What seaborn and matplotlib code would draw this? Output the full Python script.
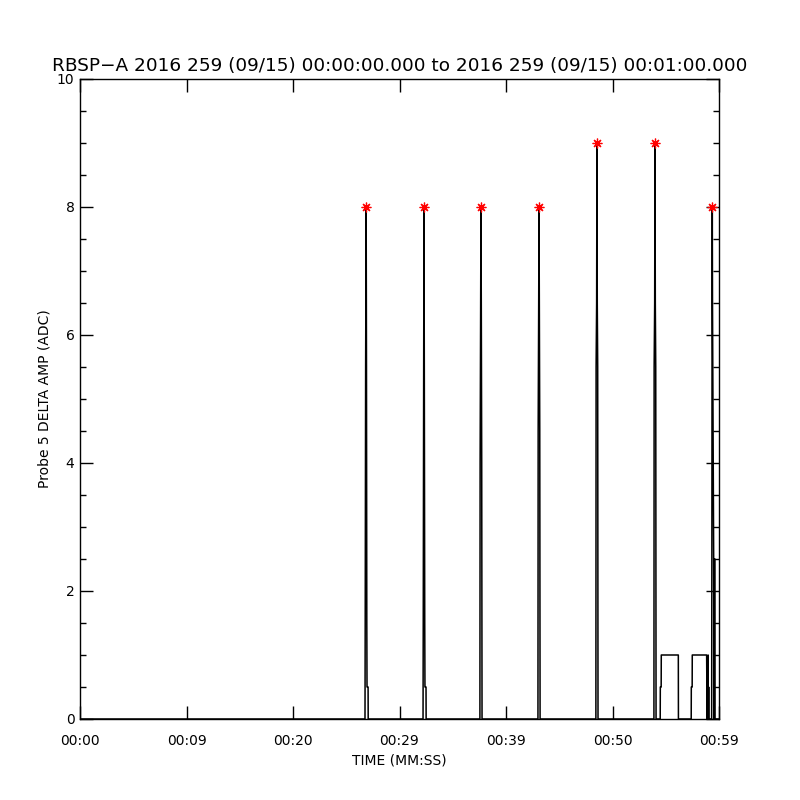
import matplotlib
matplotlib.use("Agg")
import matplotlib.pyplot as plt
from matplotlib.ticker import MultipleLocator
import pandas as pd
import seaborn as sns

# time in seconds after 00:00:00, amplitude in ADC counts
time_s = [
    0.00,
    26.76, 26.78, 26.82, 26.87, 26.90, 26.93, 26.95, 27.05, 27.06,
    32.21, 32.23, 32.27, 32.30, 32.33, 32.37, 32.39, 32.49, 32.50,
    37.55, 37.57, 37.62, 37.65, 37.68, 37.72, 37.75,
    43.00, 43.02, 43.07, 43.10, 43.13, 43.17, 43.20,
    48.44, 48.46, 48.51, 48.54, 48.57, 48.61, 48.64,
    53.89, 53.91, 53.96, 53.99, 54.02, 54.06, 54.09,
    54.48, 54.49, 54.57, 54.58, 56.18, 56.19,
    57.39, 57.40, 57.48, 57.49, 58.84, 58.86, 58.88, 58.90, 58.98, 59.00, 59.03, 59.05,
    59.31, 59.33, 59.35, 59.37, 59.39, 59.50, 59.53, 59.55, 59.62, 59.63, 60.00,
]
amp_adc = [
    0,
    0, 1.5, 5.5, 8, 5.5, 1.5, 0.5, 0.5, 0,
    0, 1.5, 5.5, 8, 5.5, 1.5, 0.5, 0.5, 0,
    0, 4, 6.5, 8, 6.5, 4, 0,
    0, 4.5, 6.5, 8, 6.5, 4.5, 0,
    0, 5.5, 6.5, 9, 6.5, 5.5, 0,
    0, 5.5, 6.5, 9, 6.5, 5.5, 0,
    0, 0.5, 0.5, 1, 1, 0,
    0, 0.5, 0.5, 1, 1, 0.5, 0, 0.5, 1, 0, 0.5, 0,
    0, 2.5, 6.5, 8, 6.5, 2.5, 0, 2.5, 2.5, 0, 0,
]

# peak markers
peak_time = [26.87, 32.30, 37.65, 43.10, 48.54, 53.99, 59.37]
peak_amp = [8, 8, 8, 8, 9, 9, 8]

x_ticks = [0, 10, 20, 30, 40, 50, 60]
x_labels = ["00:00", "00:09", "00:20", "00:29", "00:39", "00:50", "00:59"]
y_ticks = [0, 2, 4, 6, 8, 10]

series = pd.DataFrame({"t": time_s, "amp": amp_adc})
peaks = pd.DataFrame({"t": peak_time, "amp": peak_amp})

sns.set_style("ticks")
plt.rcParams["font.family"] = ["DejaVu Sans"]
plt.rcParams["text.color"] = "black"
plt.rcParams["axes.labelcolor"] = "black"

fig = plt.figure(figsize=(8, 8), dpi=100)
ax = fig.add_axes([0.1, 0.10125, 0.79875, 0.8])

sns.lineplot(data=series, x="t", y="amp", estimator=None, sort=False,
             color="black", linewidth=1.1, ax=ax)
ax.plot(peaks["t"], peaks["amp"], linestyle="none", marker=(8, 2, 0),
        markersize=7, markeredgewidth=0.9, color="red")

ax.set_xlim(0, 60)
ax.set_ylim(0, 10)
ax.set_xticks(x_ticks)
ax.set_xticklabels(x_labels)
ax.set_yticks(y_ticks)
ax.set_yticklabels([str(v) for v in y_ticks])
ax.yaxis.set_minor_locator(MultipleLocator(0.5))

ax.tick_params(which="both", direction="in", top=True, right=True,
               width=1, colors="black", labelsize=10)
ax.tick_params(which="major", length=9.5)
ax.tick_params(which="minor", length=4.6)
ax.tick_params(axis="x", pad=11)
ax.tick_params(axis="y", pad=4)
for side in ax.spines.values():
    side.set_linewidth(1)
    side.set_color("black")

ax.set_xlabel("TIME (MM:SS)", fontsize=10, labelpad=4)
ax.set_ylabel("Probe 5 DELTA AMP (ADC)", fontsize=10, labelpad=4)
ax.set_title("RBSP\u2212A 2016 259 (09/15) 00:00:00.000 to 2016 259 (09/15) 00:01:00.000",
             fontsize=13.3, pad=6)

fig.savefig("out.png", dpi=100, facecolor="white")
